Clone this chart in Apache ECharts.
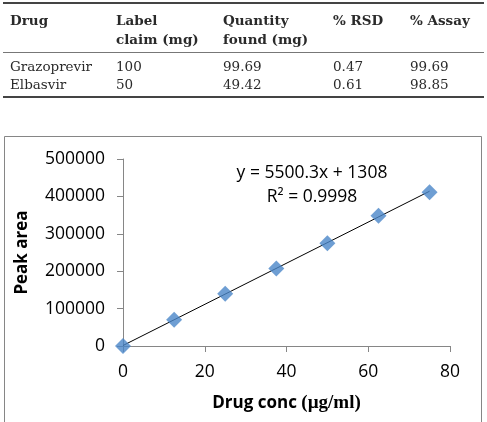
<!DOCTYPE html>
<html><head><meta charset="utf-8">
<script src="https://cdn.jsdelivr.net/npm/echarts@6/dist/echarts.min.js"></script>
<style>html,body{margin:0;padding:0;background:#fff}#c{width:487px;height:422px}</style>
</head><body><div id="c"></div>
<script>
// Table data
const tableHeaders = [["Drug"], ["Label", "claim (mg)"], ["Quantity", "found (mg)"], ["% RSD"], ["% Assay"]];
const tableRows = [
  ["Grazoprevir", "100", "99.69", "0.47", "99.69"],
  ["Elbasvir", "50", "49.42", "0.61", "98.85"]
];
// Chart data
const concValues = [0, 12.5, 25, 37.5, 50, 62.5, 75];
const areaValues = [0, 70500, 139500, 207500, 275000, 348000, 411000];
const trendX = [0, 75];
const trendY = [1308, 413830];
const equationText = "y = 5500.3x + 1308";
const r2Text = "R² = 0.9998";
const xTicks = [0, 20, 40, 60, 80];
const yTicks = [0, 100000, 200000, 300000, 400000, 500000];

const chart = echarts.init(document.getElementById('c'), null, {renderer: 'canvas'});
const serif = '"DejaVu Serif", serif';
const sans = '"Open Sans", sans-serif';
const tColor = '#2a2a2a';
const colX = [10, 116, 223, 333, 410];

const graphics = [];
// table rules
graphics.push({type: 'rect', shape: {x: 3, y: 2, width: 481, height: 2}, style: {fill: '#444'}});
graphics.push({type: 'rect', shape: {x: 3, y: 52, width: 481, height: 1}, style: {fill: '#777'}});
graphics.push({type: 'rect', shape: {x: 3, y: 96, width: 481, height: 2}, style: {fill: '#444'}});
tableHeaders.forEach((h, i) => {
  h.forEach((line, j) => {
    graphics.push({type: 'text', x: colX[i], y: 21 + j * 19, style: {text: line, font: 'bold 13.5px ' + serif, fill: tColor, textVerticalAlign: 'middle'}});
  });
});
tableRows.forEach((r, ri) => {
  r.forEach((cell, ci) => {
    graphics.push({type: 'text', x: colX[ci], y: 67 + ri * 18, style: {text: cell, font: '13.5px ' + serif, fill: tColor, textVerticalAlign: 'middle'}});
  });
});
// chart border (bottom edge falls outside the picture)
graphics.push({type: 'rect', shape: {x: 4.5, y: 136.5, width: 477, height: 300}, style: {fill: 'none', stroke: '#868686', lineWidth: 1}});
// equation
graphics.push({type: 'text', x: 312, y: 173, style: {text: equationText, font: '17.5px ' + sans, fill: '#000', textAlign: 'center', textVerticalAlign: 'middle'}});
graphics.push({type: 'text', x: 312, y: 197, style: {text: r2Text, font: '17.5px ' + sans, fill: '#000', textAlign: 'center', textVerticalAlign: 'middle'}});

const option = {
  animation: false,
  grid: {left: 123, top: 159, right: 37, bottom: 76},
  xAxis: {
    type: 'value', min: xTicks[0], max: xTicks[xTicks.length - 1], interval: 20,
    axisLine: {show: true, lineStyle: {color: '#868686'}},
    axisTick: {show: true, length: 6, lineStyle: {color: '#868686'}},
    splitLine: {show: false},
    axisLabel: {color: '#000', fontFamily: sans, fontSize: 17.5, margin: 17},
    name: '{a|Drug conc }{b|(µg/ml)}', nameLocation: 'middle', nameGap: 48,
    nameTextStyle: {rich: {
      a: {fontFamily: sans, fontWeight: 'bold', fontSize: 17, color: '#000'},
      b: {fontFamily: '"Liberation Serif", serif', fontWeight: 'bold', fontSize: 19, color: '#000'}
    }}
  },
  yAxis: {
    type: 'value', min: yTicks[0], max: yTicks[yTicks.length - 1], interval: 100000,
    axisLine: {show: true, lineStyle: {color: '#868686'}},
    axisTick: {show: true, length: 6, lineStyle: {color: '#868686'}},
    splitLine: {show: false},
    axisLabel: {color: '#000', fontFamily: sans, fontSize: 17.5, margin: 18, formatter: v => String(v)},
    name: 'Peak area', nameLocation: 'middle', nameGap: 92, nameRotate: 90,
    nameTextStyle: {fontFamily: sans, fontWeight: 'bold', fontSize: 17, color: '#000'}
  },
  series: [
    {type: 'line', data: trendX.map((x, i) => [x, trendY[i]]), symbol: 'none',
     lineStyle: {color: '#000', width: 1}, z: 2},
    {type: 'scatter', data: concValues.map((x, i) => [x, areaValues[i]]), symbol: 'diamond', symbolSize: 16,
     itemStyle: {color: '#4A86C8'}, z: 3}
  ],
  graphic: graphics
};
chart.setOption(option);
</script></body></html>
